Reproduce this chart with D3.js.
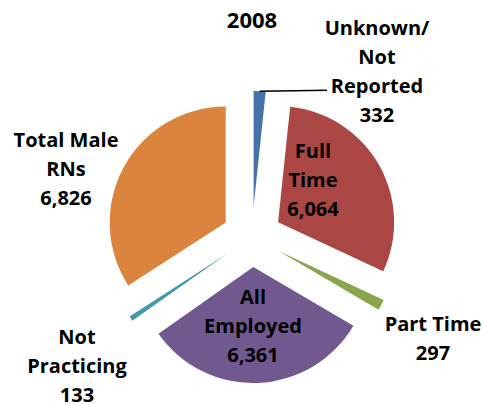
<!DOCTYPE html>
<html>
<head>
<meta charset="utf-8">
<script src="https://cdn.jsdelivr.net/npm/d3@7"></script>
<style>
    html, body {margin: 0; padding: 0; background: #fff;}
    svg text {font-family: "Open Sans", Lato, sans-serif; font-weight: 700; fill: #000;}
</style>
</head>
<body>
<div id="chart"></div>
<script>
const title = "2008";
const categories = ["Unknown/ Not Reported", "Full Time", "Part Time", "All Employed", "Not Practicing", "Total Male RNs"];
const label_lines = [["Unknown/", "Not", "Reported"], ["Full", "Time"], ["Part Time"], ["All", "Employed"], ["Not", "Practicing"], ["Total Male", "RNs"]];
const values = [332, 6064, 297, 6361, 133, 6826];
const colors = ["#4572A7", "#AA4643", "#89A54E", "#71588F", "#4198AF", "#DB843D"];


const w = 483, h = 404;
const cx = 252, cy = 237;
const radius = 116;
const explode = 30;
const line_h = 29;

// label block centres, relative to pie centre
const label_offsets = [[125, -166], [61, -57], [181, 101], [1, 89], [-175, 129], [-186, -68]];

const svg = d3.select("#chart").append("svg").attr("width", w).attr("height", h);

svg.append("text")
    .attr("x", cx).attr("y", 28)
    .attr("text-anchor", "middle")
    .style("font-size", "22px")
    .text(title);

const pie = d3.pie().sort(null).value(d => d)(values);
const arc = d3.arc().innerRadius(0).outerRadius(radius);

const g = svg.append("g").attr("transform", `translate(${cx}, ${cy})`);

const dir = d => {
    const a = (d.startAngle + d.endAngle) / 2;
    return [Math.sin(a), -Math.cos(a)];
};

// slices
g.selectAll("path").data(pie).enter().append("path")
    .attr("d", arc)
    .attr("fill", (d, i) => colors[i])
    .attr("transform", d => {
        const [dx, dy] = dir(d);
        return `translate(${(dx*explode).toFixed(1)}, ${(dy*explode).toFixed(1)})`;
    });

// labels
const fmt = d3.format(",");
g.selectAll("text.label").data(pie).enter().append("text")
    .attr("class", "label")
    .attr("text-anchor", "middle")
    .style("font-size", "20px")
    .each(function(d, i) {
        const lines = label_lines[i].concat([fmt(values[i])]);
        const [ox, oy] = label_offsets[i];
        const top = oy - (lines.length - 1) * line_h / 2 + 7;
        const t = d3.select(this);
        lines.forEach((s, j) => {
            t.append("tspan").attr("x", ox).attr("y", top + j * line_h).text(s);
        });
    });

// leader line for the unknown slice
const d0 = pie[0];
const [ux, uy] = dir(d0);
const lx0 = ux * (explode + radius), ly0 = uy * (explode + radius);
g.append("line")
    .attr("x1", lx0.toFixed(1)).attr("y1", ly0.toFixed(1))
    .attr("x2", label_offsets[0][0] - 50).attr("y2", ly0 - 1)
    .style("stroke", "#000")
    .style("stroke-width", 1.5);
</script>
</body>
</html>
